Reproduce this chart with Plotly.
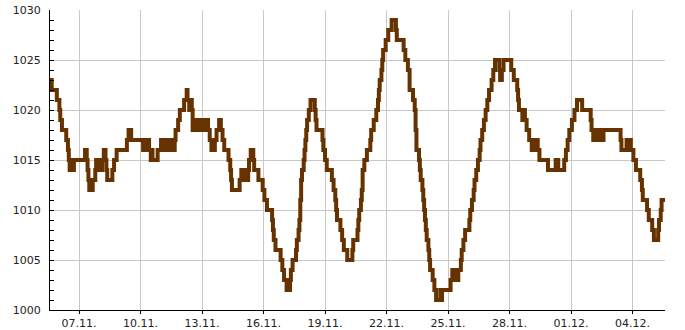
import plotly.graph_objects as go

# Pressure (hPa) change points: value holds until the next timestamp
times = [
    "2023-11-05 14:00", "2023-11-05 16:00", "2023-11-05 22:00",
    "2023-11-06 01:00", "2023-11-06 02:00", "2023-11-06 04:00", "2023-11-06 09:00",
    "2023-11-06 11:00", "2023-11-06 12:00", "2023-11-06 13:00", "2023-11-06 15:00",
    "2023-11-06 16:00", "2023-11-06 18:00",
    "2023-11-07 07:00", "2023-11-07 09:00", "2023-11-07 10:00", "2023-11-07 11:00",
    "2023-11-07 12:00", "2023-11-07 16:00", "2023-11-07 19:00", "2023-11-07 20:00",
    "2023-11-07 22:00", "2023-11-07 23:00",
    "2023-11-08 01:00", "2023-11-08 03:00", "2023-11-08 05:00", "2023-11-08 07:00",
    "2023-11-08 08:00", "2023-11-08 09:00", "2023-11-08 15:00", "2023-11-08 17:00",
    "2023-11-08 20:00",
    "2023-11-09 08:00", "2023-11-09 10:00", "2023-11-09 13:00",
    "2023-11-10 03:00", "2023-11-10 05:00", "2023-11-10 07:00", "2023-11-10 09:00",
    "2023-11-10 10:00", "2023-11-10 12:00", "2023-11-10 13:00", "2023-11-10 14:00",
    "2023-11-10 20:00",
    "2023-11-11 00:00", "2023-11-11 02:00", "2023-11-11 05:00", "2023-11-11 07:00",
    "2023-11-11 09:00", "2023-11-11 12:00", "2023-11-11 13:00", "2023-11-11 14:00",
    "2023-11-11 16:00", "2023-11-11 17:00", "2023-11-11 20:00", "2023-11-11 22:00",
    "2023-11-12 03:00", "2023-11-12 06:00", "2023-11-12 07:00", "2023-11-12 09:00",
    "2023-11-12 10:00", "2023-11-12 12:00", "2023-11-12 13:00", "2023-11-12 15:00",
    "2023-11-12 16:00", "2023-11-12 18:00", "2023-11-12 20:00", "2023-11-12 21:00",
    "2023-11-12 23:00",
    "2023-11-13 01:00", "2023-11-13 03:00", "2023-11-13 04:00", "2023-11-13 07:00",
    "2023-11-13 09:00", "2023-11-13 11:00", "2023-11-13 15:00", "2023-11-13 17:00",
    "2023-11-13 20:00", "2023-11-13 22:00",
    "2023-11-14 00:00", "2023-11-14 02:00", "2023-11-14 07:00", "2023-11-14 09:00",
    "2023-11-14 10:00", "2023-11-14 11:00", "2023-11-14 20:00", "2023-11-14 22:00",
    "2023-11-15 00:00", "2023-11-15 02:00", "2023-11-15 04:00", "2023-11-15 06:00",
    "2023-11-15 07:00", "2023-11-15 09:00", "2023-11-15 12:00", "2023-11-15 13:00",
    "2023-11-15 18:00", "2023-11-15 23:00",
    "2023-11-16 01:00", "2023-11-16 04:00", "2023-11-16 10:00", "2023-11-16 11:00",
    "2023-11-16 12:00", "2023-11-16 14:00", "2023-11-16 20:00", "2023-11-16 22:00",
    "2023-11-17 00:00", "2023-11-17 03:00", "2023-11-17 07:00", "2023-11-17 08:00",
    "2023-11-17 10:00", "2023-11-17 14:00", "2023-11-17 15:00", "2023-11-17 17:00",
    "2023-11-17 18:00", "2023-11-17 19:00", "2023-11-17 20:00", "2023-11-17 21:00",
    "2023-11-17 23:00",
    "2023-11-18 00:00", "2023-11-18 01:00", "2023-11-18 02:00", "2023-11-18 03:00",
    "2023-11-18 05:00", "2023-11-18 07:00", "2023-11-18 12:00", "2023-11-18 13:00",
    "2023-11-18 14:00", "2023-11-18 21:00", "2023-11-18 22:00",
    "2023-11-19 00:00", "2023-11-19 02:00", "2023-11-19 08:00", "2023-11-19 10:00",
    "2023-11-19 12:00", "2023-11-19 13:00", "2023-11-19 14:00", "2023-11-19 18:00",
    "2023-11-19 20:00", "2023-11-19 22:00",
    "2023-11-20 02:00", "2023-11-20 08:00", "2023-11-20 09:00", "2023-11-20 14:00",
    "2023-11-20 15:00", "2023-11-20 16:00", "2023-11-20 18:00", "2023-11-20 19:00",
    "2023-11-20 20:00", "2023-11-20 22:00",
    "2023-11-21 01:00", "2023-11-21 05:00", "2023-11-21 06:00", "2023-11-21 09:00",
    "2023-11-21 12:00", "2023-11-21 14:00", "2023-11-21 15:00", "2023-11-21 16:00",
    "2023-11-21 18:00", "2023-11-21 19:00", "2023-11-21 20:00", "2023-11-21 23:00",
    "2023-11-22 02:00", "2023-11-22 06:00", "2023-11-22 11:00", "2023-11-22 12:00",
    "2023-11-22 20:00", "2023-11-22 22:00",
    "2023-11-23 01:00", "2023-11-23 03:00", "2023-11-23 07:00", "2023-11-23 09:00",
    "2023-11-23 10:00", "2023-11-23 11:00", "2023-11-23 14:00", "2023-11-23 15:00",
    "2023-11-23 16:00", "2023-11-23 18:00", "2023-11-23 19:00", "2023-11-23 20:00",
    "2023-11-23 21:00", "2023-11-23 22:00", "2023-11-23 23:00",
    "2023-11-24 01:00", "2023-11-24 02:00", "2023-11-24 03:00", "2023-11-24 06:00",
    "2023-11-24 08:00", "2023-11-24 10:00", "2023-11-24 15:00", "2023-11-24 16:00",
    "2023-11-24 17:00",
    "2023-11-25 03:00", "2023-11-25 05:00", "2023-11-25 07:00", "2023-11-25 09:00",
    "2023-11-25 10:00", "2023-11-25 12:00", "2023-11-25 15:00", "2023-11-25 16:00",
    "2023-11-25 18:00", "2023-11-25 20:00",
    "2023-11-26 01:00", "2023-11-26 02:00", "2023-11-26 04:00", "2023-11-26 06:00",
    "2023-11-26 07:00", "2023-11-26 09:00", "2023-11-26 11:00", "2023-11-26 13:00",
    "2023-11-26 14:00", "2023-11-26 16:00", "2023-11-26 18:00", "2023-11-26 20:00",
    "2023-11-26 22:00",
    "2023-11-27 00:00", "2023-11-27 03:00", "2023-11-27 05:00", "2023-11-27 07:00",
    "2023-11-27 12:00", "2023-11-27 13:00", "2023-11-27 15:00", "2023-11-27 17:00",
    "2023-11-28 02:00", "2023-11-28 05:00", "2023-11-28 09:00", "2023-11-28 10:00",
    "2023-11-28 11:00", "2023-11-28 15:00", "2023-11-28 17:00", "2023-11-28 18:00",
    "2023-11-28 20:00", "2023-11-28 23:00",
    "2023-11-29 02:00", "2023-11-29 03:00", "2023-11-29 05:00", "2023-11-29 07:00",
    "2023-11-29 09:00", "2023-11-29 11:00", "2023-11-29 21:00",
    "2023-11-30 06:00", "2023-11-30 09:00", "2023-11-30 16:00", "2023-11-30 18:00",
    "2023-11-30 20:00", "2023-11-30 22:00",
    "2023-12-01 01:00", "2023-12-01 04:00", "2023-12-01 07:00", "2023-12-01 13:00",
    "2023-12-01 23:00",
    "2023-12-02 00:00", "2023-12-02 02:00", "2023-12-02 04:00", "2023-12-02 06:00",
    "2023-12-02 08:00", "2023-12-02 10:00", "2023-12-02 14:00",
    "2023-12-03 10:00", "2023-12-03 11:00", "2023-12-03 17:00", "2023-12-03 18:00",
    "2023-12-03 20:00", "2023-12-03 22:00",
    "2023-12-04 01:00", "2023-12-04 04:00", "2023-12-04 09:00", "2023-12-04 11:00",
    "2023-12-04 12:00", "2023-12-04 17:00", "2023-12-04 19:00", "2023-12-04 23:00",
    "2023-12-05 01:00", "2023-12-05 06:00", "2023-12-05 07:00", "2023-12-05 09:00",
    "2023-12-05 10:00", "2023-12-05 14:00",
]
pressure = [
    1023, 1022, 1021,
    1020, 1019, 1018, 1017, 1016, 1015, 1014, 1015, 1014, 1015,
    1016, 1015, 1014, 1013, 1012, 1013, 1014, 1015, 1014, 1015,
    1014, 1015, 1016, 1015, 1014, 1013, 1014, 1015, 1016,
    1017, 1018, 1017,
    1016, 1017, 1016, 1017, 1016, 1015, 1016, 1015, 1016,
    1017, 1016, 1017, 1016, 1017, 1016, 1017, 1016, 1017, 1018, 1019, 1020,
    1021, 1022, 1021, 1020, 1021, 1020, 1018, 1019, 1018, 1019, 1018, 1019, 1018,
    1019, 1018, 1019, 1018, 1017, 1016, 1017, 1018, 1019, 1018,
    1017, 1016, 1015, 1014, 1013, 1012, 1013, 1014, 1013,
    1014, 1013, 1014, 1015, 1016, 1015, 1014, 1013, 1012,
    1011, 1010, 1009, 1008, 1007, 1006, 1005, 1004,
    1003, 1002, 1003, 1004, 1005, 1006, 1007, 1008, 1009, 1011, 1013, 1014, 1015,
    1016, 1017, 1018, 1019, 1020, 1021, 1020, 1019, 1018, 1017, 1016,
    1015, 1014, 1013, 1012, 1011, 1010, 1009, 1008, 1007, 1006,
    1005, 1006, 1007, 1008, 1009, 1010, 1011, 1012, 1014, 1015,
    1016, 1017, 1018, 1019, 1020, 1021, 1022, 1023, 1024, 1025, 1026, 1027,
    1028, 1029, 1028, 1027, 1026, 1025,
    1024, 1022, 1021, 1020, 1018, 1016, 1015, 1014, 1013, 1012, 1011, 1010,
    1009, 1008, 1007,
    1006, 1005, 1004, 1003, 1002, 1001, 1002, 1001, 1002,
    1003, 1004, 1003, 1004, 1003, 1004, 1005, 1006, 1007, 1008,
    1009, 1010, 1011, 1012, 1013, 1014, 1015, 1016, 1017, 1018, 1019, 1020, 1021,
    1022, 1023, 1024, 1025, 1024, 1023, 1024, 1025,
    1024, 1023, 1022, 1021, 1020, 1019, 1020, 1019, 1018, 1017,
    1016, 1017, 1016, 1017, 1016, 1015, 1014,
    1015, 1014, 1015, 1016, 1017, 1018,
    1019, 1020, 1021, 1020, 1019,
    1018, 1017, 1018, 1017, 1018, 1017, 1018,
    1017, 1016, 1017, 1016, 1017, 1016,
    1015, 1014, 1013, 1012, 1011, 1010, 1009, 1008,
    1007, 1008, 1009, 1010, 1011, 1011,
]

x_tick_start = "2023-11-07"
x_tick_step_days = 3
y_range = [1000, 1030]

line_color = "#663300"
grid_color = "#c8c8c8"
font_family = "DejaVu Sans"

fig = go.Figure()
fig.add_trace(go.Scatter(
    x=times, y=pressure, mode="lines",
    line=dict(color=line_color, width=4, shape="hv"),
    hoverinfo="x+y", showlegend=False,
))

fig.update_layout(
    width=685, height=330,
    margin=dict(l=50, r=20, t=10, b=20, autoexpand=False),
    paper_bgcolor="white", plot_bgcolor="white",
    font=dict(family=font_family, size=11, color="#222222"),
    showlegend=False,
)
fig.update_xaxes(
    type="date", automargin=False,
    range=[times[0], times[-1]],
    tick0=x_tick_start, dtick=x_tick_step_days * 86400000,
    tickformat="%d.%m.",
    showgrid=True, gridcolor=grid_color, gridwidth=1,
    showline=True, linecolor="#000000", linewidth=1,
    ticks="outside", ticklen=3, tickcolor="#000000",
    zeroline=False,
)
fig.update_yaxes(
    automargin=False,
    range=y_range, dtick=5, tick0=1000,
    showgrid=True, gridcolor=grid_color, gridwidth=1,
    showline=True, linecolor="#000000", linewidth=1,
    ticks="inside", ticklen=4, tickcolor="#000000",
    minor=dict(dtick=1, ticks="inside", ticklen=4, tickcolor="#000000", showgrid=False),
    zeroline=False,
    ticklabelstandoff=6,
)

fig.write_html("out.html")
